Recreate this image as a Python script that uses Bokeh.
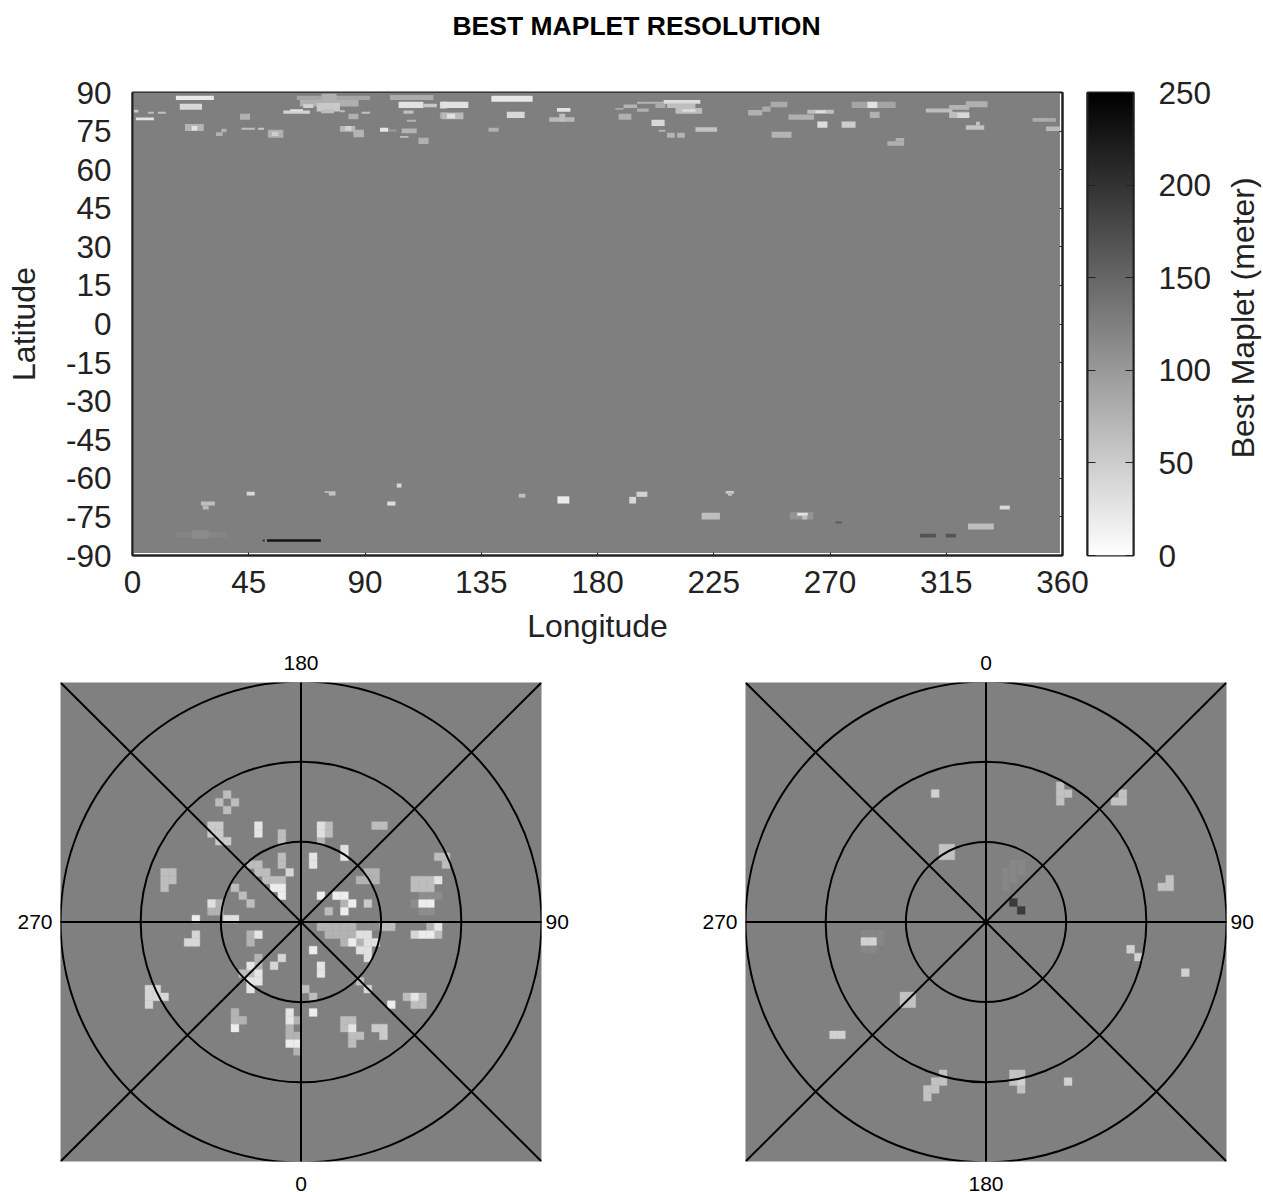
from bokeh.plotting import figure
from bokeh.embed import file_html
from bokeh.resources import INLINE
from bokeh.layouts import column, row
from bokeh.core.properties import value
from bokeh.models import (ColumnDataSource, FixedTicker, LinearAxis, LinearColorMapper)
import numpy as np

TITLE = "BEST MAPLET RESOLUTION"
BAR_LABEL = "Best Maplet (meter)"
lon_ticks = [0, 45, 90, 135, 180, 225, 270, 315, 360]
lat_ticks = [-90, -75, -60, -45, -30, -15, 0, 15, 30, 45, 60, 75, 90]
bar_ticks = [0, 50, 100, 150, 200, 250]
no_data_value = 125
map_extent = (0, 359, -89, 90)

# lon0, lon1, lat0, lat1, metres
map_north = [
    (16.8, 31.5, 87.1, 88.7, 22), (18.3, 26.9, 83.3, 85.6, 38), (0.5, 2.3, 82.2, 83.3, 55),
    (6, 8.3, 81.7, 82.5, 64), (9.8, 12.9, 81.7, 82.5, 64), (1.3, 8.3, 79.2, 80.3, 29),
    (41.6, 45.5, 79.4, 81.7, 78), (20.3, 27.6, 75, 77.8, 74), (22.9, 25.1, 75.2, 77, 29),
    (34.4, 36.4, 74.5, 75.9, 78), (32.3, 34.9, 73.1, 74.5, 78), (42.2, 47.4, 75.5, 76.3, 64),
    (48.6, 50.9, 75.5, 76.3, 54), (52.4, 58.4, 72.4, 75.5, 78), (53.9, 56.5, 73.1, 74.7, 49),
    (63.6, 92, 87.1, 88.7, 88), (64.8, 87.5, 84.6, 87.1, 78), (73.2, 79, 86.9, 89.5, 78),
    (71.3, 80.3, 82.6, 85.9, 54), (66.1, 70, 84, 85.4, 44), (73, 78, 81.9, 83.4, 64),
    (58.4, 68.7, 81.7, 83, 44), (61, 66, 82.7, 83.5, 29), (80.3, 82.2, 82.3, 83.1, 64),
    (83.6, 87.4, 79.6, 81.7, 78), (88.7, 92, 81.7, 82.5, 64), (80.3, 86.2, 74.7, 77, 69),
    (82.3, 84.8, 75.2, 77, 44), (85.5, 89.6, 72.6, 75.5, 74), (95.8, 99, 74.7, 76.3, 25),
    (99, 102.2, 74.7, 75.7, 100), (99.7, 116.5, 87.1, 89, 83), (103, 112.6, 84, 86.4, 29),
    (112.6, 117.8, 84.3, 85.6, 54), (119, 121.7, 83.8, 86.4, 34), (104.9, 108.8, 81.7, 83, 64),
    (106.2, 109.8, 78.6, 79.4, 74), (104.2, 110, 74.2, 76, 74), (103.6, 106.8, 72.4, 73.1, 64),
    (110.7, 114.6, 70, 72.4, 78), (119, 121.7, 79.9, 82.2, 83), (119.7, 130, 84, 86.4, 29),
    (119.7, 128.1, 79.6, 82.2, 69), (121.7, 124.9, 79.9, 81.7, 29), (138.9, 154.9, 86.4, 88.7, 25),
    (144.9, 151.8, 80.1, 82.5, 39), (137.8, 141.7, 74.7, 76.3, 78), (164.3, 169.5, 82.5, 84, 29),
    (161.3, 171.1, 78.6, 80.4, 69), (165.2, 167.5, 78.6, 81.7, 64), (186.9, 190.1, 83.3, 84, 83),
    (190.1, 195.3, 84, 85.3, 74), (195.3, 205.6, 85.6, 86.4, 74), (195.3, 199.8, 82.5, 83.8, 78),
    (202.4, 206.3, 84, 85.6, 83), (206.9, 217.9, 84, 85.6, 64), (210.2, 220.5, 81.7, 84, 64),
    (205.6, 219.8, 85.6, 87.1, 34), (212.8, 217.9, 82.5, 83.5, 34), (188.2, 193.1, 79.4, 81.7, 78),
    (200.9, 206, 77, 79.4, 39), (203.7, 206.3, 74.7, 75.5, 74), (206.9, 209.9, 72.4, 74.4, 74),
    (210.8, 213.8, 72.4, 74.4, 74), (217.9, 226.3, 74.7, 76.5, 59), (238.3, 243.8, 81.1, 83.2, 78),
    (243.8, 247, 82.5, 84.6, 83), (247, 253.5, 84.3, 86.4, 83), (253.9, 263.8, 79.4, 81.4, 78),
    (261.2, 271.5, 81.7, 83.3, 64), (264.4, 268.3, 82, 83, 34), (265.1, 269, 76.3, 78.7, 34),
    (274.5, 279.9, 76.3, 78.7, 49), (247.4, 255.1, 72.4, 74.7, 74), (278.4, 295.4, 84, 86.4, 88),
    (284.5, 288.3, 84, 86.4, 29), (285.4, 289.2, 80.1, 82.5, 78), (292.2, 298.7, 69.3, 71, 78),
    (295.4, 298.7, 71, 72.3, 78), (307.1, 317.4, 82.2, 83.8, 64), (316.1, 323.9, 83.3, 85.1, 74),
    (322.6, 331, 84.3, 86.6, 78), (316.1, 323.9, 80.1, 82.5, 64), (319.3, 323.9, 80.1, 82, 39),
    (322.6, 329.7, 75.5, 77.3, 59), (326.5, 328, 77.3, 78.6, 59), (348.4, 357.4, 78.6, 80.1, 83),
    (353.6, 359, 75, 76.8, 69),
]
map_south = [
    (26.5, 31.9, -70.6, -69, 64), (27.2, 29.5, -72.1, -70.6, 69), (44.2, 47.3, -66.7, -65.2, 39),
    (74.4, 78.6, -65.7, -65, 64), (76, 78.6, -66.7, -65.7, 59), (102.3, 104.1, -63.6, -62, 39),
    (98.6, 101.8, -70.6, -69, 34), (149.5, 152.1, -67.5, -66, 64), (164.5, 169.1, -69.8, -67, 20),
    (16.6, 36.6, -83, -80.9, 120), (23.1, 29.5, -83.5, -80.2, 114), (52.1, 72.9, -84.7, -83.7, 230),
    (50.4, 51.2, -84.6, -83.8, 200), (195.1, 199.3, -67.2, -65.2, 44), (192.3, 194.9, -69.8, -67.2, 39),
    (229.6, 232.8, -66, -64.9, 54), (230.5, 232, -66.8, -66, 64), (220.3, 227.4, -76, -73.4, 64),
    (254.5, 263.5, -76, -73.2, 105), (257.3, 261.4, -74.5, -73.4, 29), (259.2, 261.2, -76, -74.5, 64),
    (272.1, 274.6, -77.6, -76.8, 160), (304.8, 311, -83, -81.5, 167), (314.8, 318.7, -83, -81.5, 167),
    (323.4, 333.4, -79.9, -77.6, 64), (335.7, 339.6, -72.1, -70.6, 39),
]

# polar grid cells, (column, row) counted from the pole, listed by metres
polar_cell_deg = 0.975
north_cells_18 = [(2, 3), (4, 3), (5, 3), (6, 2), (5, 1), (1, -4), (-14, 0), (6, -3), (11, -11), (1, -12),
                  (-9, -14), (-2, -16), (-1, -16), (15, 2), (16, 2), (15, -2), (16, -2), (-3, 4), (-4, 4), (-3, 3)]
north_cells_25 = [(-6, 12), (-6, 11), (5, 8), (1, 8), (1, 7), (2, -6), (2, -7), (-6, -2), (-7, -6), (-6, -7),
                  (-7, -8), (-6, -8), (-7, -9), (-2, -12), (-2, -13), (6, -14), (14, -10), (17, 5), (17, -1)]
north_cells_30 = [(-12, 2), (-10, 0), (-9, 0), (2, 12), (2, 11), (5, 9), (7, -2), (8, -2), (8, -3), (9, -3), (7, -4), (8, -4), (8, -5)]
north_cells_40 = [(-14, -2), (-15, -3), (-14, -3), (-3, -5), (-4, -6), (-2, 6), (-20, -9), (-19, -9), (-20, -10), (-20, -11),
                  (-19, -10), (-18, -10), (14, -2), (8, -9)]
north_cells_52 = [(-12, 12), (-11, 12), (-12, 11), (-11, 11), (-11, 10), (-10, 10), (8, 2), (9, -14), (10, -14), (10, -15)]
north_cells_65 = [(-10, 16), (-11, 15), (-9, 15), (-10, 14), (-3, 11), (-3, 10), (-3, 8), (-3, 7), (-6, 7), (-7, 7),
                  (-6, 6), (-5, 6), (-5, 5), (-4, 5), (-3, 5), (-9, 4), (-8, 3), (-7, 2), (-18, 6), (-17, 6), (-18, 5),
                  (-17, 5), (-18, 4), (-8, -7), (-7, -7), (3, 12), (3, 11), (9, 12), (10, 12), (17, 8), (18, 8), (18, 7),
                  (14, 5), (15, 5), (16, 5), (14, 4), (15, 4), (16, 4), (3, 1), (10, -1), (11, -1), (17, -2), (7, -8),
                  (0, -9), (1, -10), (13, -10), (15, -10), (14, -11), (15, -11), (5, -13), (6, -13), (5, -14), (6, -15),
                  (7, -15), (6, -16)]
north_cells_75 = [(-11, 2), (-12, 1), (-11, 1), (-7, -2), (-7, -3), (-6, -5), (-6, -6), (-9, -12), (-9, -13), (-8, -13),
                  (-1, -13), (-2, -14), (-2, -15), (-1, -15), (-1, -17), (2, 10), (8, 6), (9, 6), (7, 5), (8, 5), (9, 5),
                  (5, 2), (2, -1), (3, -1), (4, -1), (5, -1), (6, -1), (3, -2), (4, -2), (5, -2), (6, -2), (16, -1), (5, -3), (7, -3)]
north_cells_112 = [(15, 3), (16, 3), (17, 3), (14, 2), (15, 1), (16, 1), (7, -1), (8, -1), (9, -1)]

south_cells_118 = [(3, 7), (4, 7), (2, 6), (3, 6), (4, 6), (2, 5), (3, 5), (2, 4), (-16, -2), (-15, -2), (-14, -2),
                   (-14, -3), (-16, -4), (-15, -4)]
south_cells_192 = [(3, 2), (4, 1)]
south_cells_45 = [(-16, -3), (-15, -3), (-20, -15), (-19, -15), (-7, 16), (25, -7), (10, -21), (18, -4), (19, -5), (4, -21)]
south_cells_60 = [(-6, 9), (-5, 9), (-6, 8), (-5, 8), (9, 17), (9, 16), (9, 15), (10, 16), (17, 16), (16, 15), (17, 15),
                  (23, 5), (22, 4), (23, 4), (-11, -10), (-10, -10), (-11, -11), (-10, -11), (-6, -20), (-6, -21),
                  (-7, -21), (-7, -22), (-8, -22), (-8, -23), (3, -20), (4, -20), (3, -21), (4, -22)]

DARK = "#222222"
FONT = "Liberation Sans"
grays = ["#%02x%02x%02x" % (g, g, g) for g in range(255, -1, -1)]
mapper = LinearColorMapper(palette=grays, low=0, high=250)


def quads(p, patches):
    arr = np.array(patches, dtype=float)
    src = ColumnDataSource(dict(l=arr[:, 0], r=arr[:, 1], b=arr[:, 2], t=arr[:, 3], v=arr[:, 4]))
    p.quad(left="l", right="r", bottom="b", top="t", source=src,
           fill_color={"field": "v", "transform": mapper}, line_color=None)


def text_strip(w, h, label, x, y, size, style, color, angle=0.0):
    f = figure(width=w, height=h, x_range=(0, w), y_range=(h, 0), min_border=0,
               output_backend="svg", toolbar_location=None, x_axis_location=None,
               y_axis_location=None, outline_line_color=None, border_fill_color=None,
               background_fill_color=None)
    f.grid.visible = False
    f.text(x=[x], y=[y], text=[label], angle=angle, text_align="center", text_baseline="middle",
           text_font=value(FONT), text_font_style=style, text_font_size=size, text_color=color)
    return f


# ---------- title strip
HEAD_H = 50
head = text_strip(1263, HEAD_H, TITLE, 636, 25, "26.5px", "bold", "black")

# ---------- main map
m = figure(width=1090, height=648 - HEAD_H, x_range=(0, 360), y_range=(-90, 90),
           min_border_left=132, min_border_right=28, min_border_top=91 - HEAD_H, min_border_bottom=93,
           output_backend="svg", toolbar_location=None, background_fill_color="white",
           border_fill_color=None)
m.grid.visible = False
quads(m, [(map_extent[0], map_extent[1], map_extent[2], map_extent[3], no_data_value)])
quads(m, map_north)
quads(m, map_south)
m.outline_line_color = DARK
m.outline_line_width = 2

for ax, ticks, label in ((m.xaxis[0], lon_ticks, "Longitude"), (m.yaxis[0], lat_ticks, "Latitude")):
    ax.ticker = FixedTicker(ticks=ticks)
    ax.axis_label = label
    ax.axis_label_text_font = FONT
    ax.axis_label_text_font_style = "normal"
    ax.axis_label_text_font_size = "32px"
    ax.axis_label_text_color = DARK
    ax.major_label_text_font = FONT
    ax.major_label_text_font_size = "31.5px"
    ax.major_label_text_color = DARK
    ax.axis_line_color = DARK
    ax.axis_line_width = 2
    ax.major_tick_line_color = DARK
    ax.minor_tick_line_color = None
    ax.major_tick_out = 0
m.xaxis[0].major_tick_in = 3
m.yaxis[0].major_tick_in = 0
m.xaxis[0].major_label_standoff = 15
m.xaxis[0].axis_label_standoff = 12
m.yaxis[0].major_label_standoff = 21
m.yaxis[0].axis_label_standoff = 21
m.yaxis[0].major_label_orientation = "horizontal"
m.yaxis[0].major_label_overrides = {t: str(t) for t in lat_ticks}

rax = LinearAxis(ticker=FixedTicker(ticks=lat_ticks), major_tick_in=3, major_tick_out=0,
                 major_tick_line_color=DARK, minor_tick_line_color=None,
                 axis_line_color=DARK, axis_line_width=2,
                 major_label_overrides={t: "" for t in lat_ticks}, major_label_standoff=0)
m.add_layout(rax, "right")

# ---------- colour bar
cb = figure(width=138, height=648 - HEAD_H, x_range=(0, 1), y_range=(0, 250),
            min_border_left=2, min_border_right=90, min_border_top=92 - HEAD_H, min_border_bottom=91,
            output_backend="svg", toolbar_location=None, border_fill_color=None,
            x_axis_location=None, y_axis_location="right", margin=(0, 0, 0, -5))
cb.grid.visible = False
cb.image(image=[np.linspace(0, 250, 256).reshape(-1, 1)], x=0, y=0, dw=1, dh=250, color_mapper=mapper)
cb.outline_line_color = DARK
cb.outline_line_width = 2
a = cb.yaxis[0]
a.ticker = FixedTicker(ticks=bar_ticks)
a.major_label_text_font = FONT
a.major_label_text_font_size = "31.5px"
a.major_label_text_color = DARK
a.major_label_standoff = 25
a.major_tick_in = 8
a.major_tick_out = 0
a.major_tick_line_color = DARK
a.minor_tick_line_color = None
a.axis_line_color = DARK
a.axis_line_width = 2
a.major_label_orientation = "horizontal"
lax = LinearAxis(ticker=FixedTicker(ticks=bar_ticks), major_tick_in=8, major_tick_out=0,
                 major_tick_line_color=DARK, minor_tick_line_color=None,
                 axis_line_color=DARK, axis_line_width=2,
                 major_label_overrides={t: "" for t in bar_ticks}, major_label_standoff=0)
cb.add_layout(lax, "left")
bar_label = text_strip(40, 648 - HEAD_H, BAR_LABEL, 19, 291, "32px", "normal", DARK, angle=np.pi / 2)


# ---------- polar panels
def polar(width, height, mb, groups, labels, standoffs, origin):
    p = figure(width=width, height=height, x_range=(-30, 30), y_range=(-30, 30),
               min_border_left=mb[0], min_border_right=mb[1], min_border_top=mb[2], min_border_bottom=mb[3],
               output_backend="svg", toolbar_location=None, background_fill_color="#808080",
               border_fill_color=None, x_axis_location=None, y_axis_location=None, outline_line_color=None)
    p.grid.visible = False
    for val, cells in groups:
        c = np.array(cells, dtype=float)
        s = polar_cell_deg
        col = mapper.palette[int(round(val / 250 * 255))]
        p.quad(left=c[:, 0] * s + origin[0], right=(c[:, 0] + 1) * s + origin[0],
               bottom=c[:, 1] * s + origin[1], top=(c[:, 1] + 1) * s + origin[1],
               fill_color=col, line_color=col, line_width=0.4)
    radii = [10, 20, 30]
    p.circle(x=[0] * 3, y=[0] * 3, radius=radii, fill_color=None, line_color="black", line_width=2)
    ang = np.radians([0, 45, 90, 135])
    r = 30 * np.sqrt(2)
    p.segment(x0=-r * np.cos(ang), y0=-r * np.sin(ang), x1=r * np.cos(ang), y1=r * np.sin(ang),
              line_color="black", line_width=2)
    for side, txt, so in zip(("above", "below", "left", "right"), labels, standoffs):
        ax = LinearAxis(ticker=FixedTicker(ticks=[0]), major_label_overrides={0: txt},
                        axis_line_color=None, major_tick_line_color=None, minor_tick_line_color=None,
                        major_tick_in=0, major_tick_out=0, major_label_standoff=so,
                        major_label_text_font=FONT, major_label_text_font_size="21px",
                        major_label_text_color="black", major_label_orientation="horizontal")
        p.add_layout(ax, side)
    return p


north_groups = [(112, north_cells_112), (75, north_cells_75), (65, north_cells_65), (52, north_cells_52),
                (40, north_cells_40), (30, north_cells_30), (25, north_cells_25), (18, north_cells_18)]
south_groups = [(118, south_cells_118), (60, south_cells_60), (45, south_cells_45), (192, south_cells_192)]
left = polar(660, 560, (60, 119, 40, 39), north_groups, ("180", "0", "270", "90"), (13, 15, 8, 4), (0.05, -0.12))
right = polar(603, 560, (85, 37, 42, 37), south_groups, ("0", "180", "270", "90"), (13, 15, 8, 4), (0, 0))

top_row = row(m, cb, bar_label, spacing=0)
bottom_row = row(left, right, spacing=0, margin=(-8, 0, 0, 0))
page = column(head, top_row, bottom_row, spacing=0)
open("out.html", "w").write(file_html(page, INLINE))
